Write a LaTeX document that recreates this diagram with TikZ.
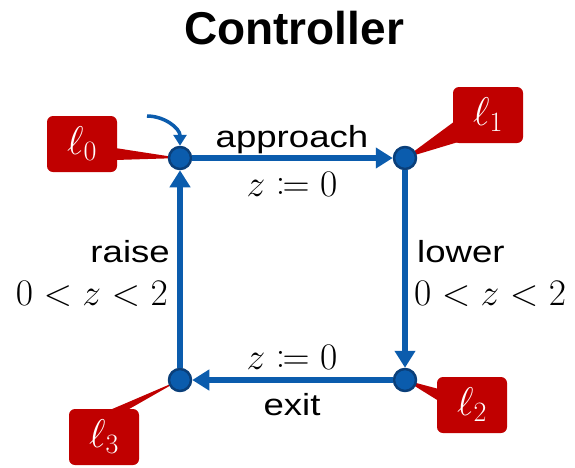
\RequirePackage{fix-cm}
\documentclass[tikz,border=0pt]{standalone}
\usepackage{fontspec}
\usepackage{mathtools}
\setmainfont{Liberation Sans}
\newfontfamily\lblfont[FakeStretch=1.2]{Liberation Sans}
\usetikzlibrary{arrows.meta,calc,positioning,backgrounds}
\definecolor{ctrlBlue}{HTML}{0B5CAD}
\definecolor{ctrlDark}{HTML}{0A3F7A}
\definecolor{ctrlRed}{HTML}{C00000}

\begin{document}
\begin{tikzpicture}[x=1pt,y=-1pt,>=Latex,line cap=round,line join=round]
\tikzset{loc/.style={circle,fill=ctrlBlue,draw=ctrlDark,line width=2.5pt,minimum size=22pt,inner sep=0pt},edge/.style={draw=ctrlBlue,line width=5.5pt,line cap=butt,-{Triangle[length=17pt,width=20pt]}},tag/.style={fill=ctrlRed,rounded corners=6pt,text=white,minimum width=70pt,minimum height=56pt,inner sep=0pt,font=\fontsize{40}{44}\selectfont},lbl/.style={font=\lblfont\fontsize{30.5}{32}\selectfont,inner sep=0pt},mlbl/.style={font=\fontsize{37.5}{40}\selectfont,inner sep=0pt}}
\node[font=\bfseries\fontsize{46}{50}\selectfont] (title) at (294,28) {Controller};
% locations
\node[loc] (l0) at (180,158) {};
\node[loc] (l1) at (405,158) {};
\node[loc] (l2) at (405,380) {};
\node[loc] (l3) at (180,380) {};
% callouts
\node[tag] (t0) at (82,144) {$\ell_0$};
\node[tag] (t1) at (488,115) {$\ell_1$};
\node[tag] (t2) at (472,405) {$\ell_2$};
\node[tag] (t3) at (104,437) {$\ell_3$};
\begin{scope}[on background layer]
\path[fill=white] (0,0) rectangle (575,467);
\fill[ctrlRed] ($(t0.east)+(-2,4)$) -- (l0.center) -- ($(t0.east)+(-2,16)$) -- cycle;
\fill[ctrlRed] ($(t1.south west)+(2,-22)$) -- (l1.center) -- ($(t1.south west)+(8,-2)$) -- cycle;
\fill[ctrlRed] ($(t2.west)+(2,-16)$) -- (l2.center) -- ($(t2.west)+(2,-4)$) -- cycle;
\fill[ctrlRed] ($(t3.north)+(4,2)$) -- (l3.center) -- ($(t3.north)+(22,2)$) -- cycle;
\end{scope}
% transitions
\coordinate (init) at (147,116);
\draw[draw=ctrlBlue,line width=3.5pt,line cap=butt,-{Triangle[length=11pt,width=13pt]}] (init) to[out=0,in=90] (l0.north);
\draw[edge] (l0) -- (l1);
\draw[edge] (l1) -- (l2);
\draw[edge] (l2) -- (l3);
\draw[edge] (l3) -- (l0);
\node[lbl] (approach) at (292,140) {approach};
\node[mlbl] (reset0) at (292,184) {$z\coloneqq 0$};
\node[lbl,anchor=east] (raise) at (170,252) {raise};
\node[mlbl,anchor=east] (guard3) at (168,294) {$0<z<2$};
\node[lbl,anchor=west] (lower) at (417,252) {lower};
\node[mlbl,anchor=west] (guard1) at (414,294) {$0<z<2$};
\node[mlbl] (reset2) at (292,357) {$z\coloneqq 0$};
\node[lbl] (exit) at (292,405) {exit};
\end{tikzpicture}
\end{document}
